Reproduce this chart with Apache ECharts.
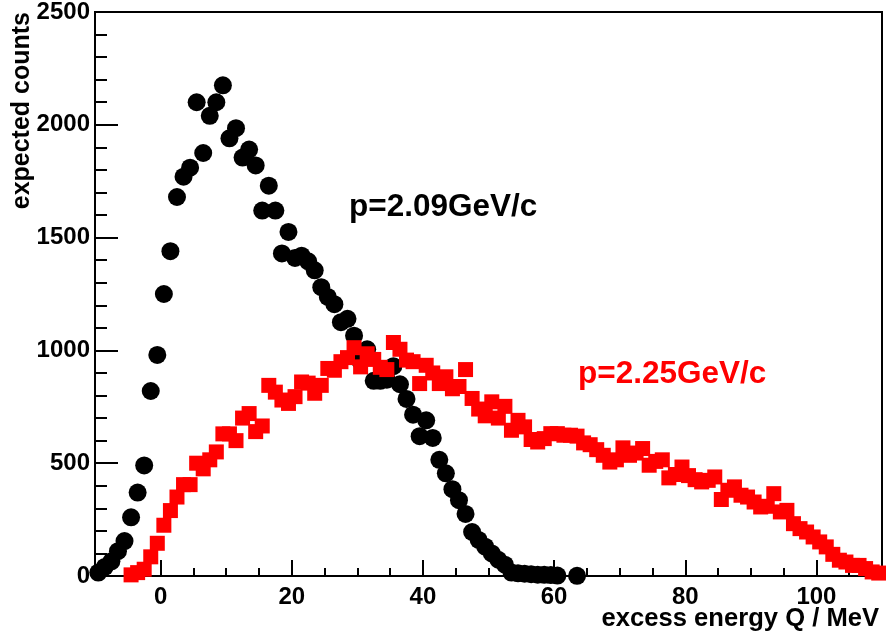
<!DOCTYPE html>
<html lang="en">
<head>
    <meta charset="UTF-8">
    <title>expected counts vs excess energy</title>
    <script src="https://cdn.jsdelivr.net/npm/echarts@6/dist/echarts.min.js"></script>
    <style>
        *{ padding: 0; margin: 0; }
        #chart{ width: 886px; height: 636px; background: #fff; }
    </style>
</head>
<body>
<div id="chart"></div>
<script>
    // bin centres start here, 1 MeV bins
    var blackStart = -9.5;
    var redStart = -4.5;

    // p=2.09GeV/c (black circles)
    var blackCounts = [
        15, 40, 65, 110, 155, 260, 370, 490, 820, 980,
        1250, 1440, 1680, 1770, 1810, 2100, 1875, 2040, 2100, 2175,
        1940, 1985, 1855, 1890, 1820, 1620, 1730, 1620, 1430, 1525,
        1410, 1420, 1395, 1355, 1280, 1237, 1205, 1125, 1140, 1065,
        950, 1005, 865, 865, 870, 930, 850, 785, 715, 620,
        690, 612, 515, 455, 385, 336, 275, 195, 160, 130,
        100, 72, 50, 15, 12, 10, 8, 6, 5, 4,
        2, null, null, 1
    ];

    // p=2.25GeV/c (red squares)
    var redCounts = [
        5, 15, 30, 85, 145, 225, 290, 350, 405, 405,
        500, 475, 515, 550, 630, 630, 600, 700, 720, 640,
        665, 845, 815, 780, 765, 795, 860, 855, 810, 845,
        920, 912, 950, 968, 1012, 927, 985, 960, 925, 915,
        1035, 1005, 957, 950, 853, 934, 900, 853, 883, 830,
        840, 915, 787, 740, 710, 772, 700, 752, 646, 690,
        661, 605, 594, 609, 631, 631, 624, 624, 620, 590,
        582, 560, 535, 505, 515, 568, 535, 545, 565, 491,
        508, 515, 435, 450, 483, 445, 427, 417, 424, 439,
        339, 380, 395, 358, 350, 328, 306, 309, 365, 284,
        291, 232, 210, 195, 173, 151, 129, 96, 70, 62,
        47, 47, 33, 18, 13
    ];

    var xMajorTicks = [0, 20, 40, 60, 80, 100];
    var xMinorTicks = [-5, 5, 10, 15, 25, 30, 35, 45, 50, 55, 65, 70, 75, 85, 90, 95, 105];

    function toPoints(start, counts) {
        var out = [];
        for (var i = 0; i < counts.length; i++) {
            if (counts[i] !== null) out.push([start + i, counts[i]]);
        }
        return out;
    }

    var FONT = '"Liberation Sans", Arial, Helvetica, sans-serif';
    var labelStyle = { color: '#000', fontFamily: FONT, fontWeight: 'bold', fontSize: 24 };

    var my_chart = echarts.init(document.getElementById('chart'));
    my_chart.setOption({
        animation: false,
        backgroundColor: '#ffffff',
        grid: {
            left: 95, right: 4, top: 12, bottom: 60,
            show: true, borderColor: '#000', borderWidth: 2
        },
        xAxis: [{
            type: 'value',
            position: 'bottom',
            min: -10, max: 110, interval: 5,
            axisLine: { onZero: false, lineStyle: { color: '#000', width: 2 } },
            axisTick: { inside: true, length: 16, customValues: xMajorTicks, lineStyle: { color: '#000', width: 2 } },
            axisLabel: Object.assign({ margin: 9, customValues: xMajorTicks }, labelStyle),
            splitLine: { show: false }
        }, {
            // minor ticks only
            type: 'value',
            position: 'bottom',
            min: -10, max: 110, interval: 5,
            axisLine: { show: false, onZero: false },
            axisTick: { inside: true, length: 8, customValues: xMinorTicks, lineStyle: { color: '#000', width: 2 } },
            axisLabel: { show: false },
            splitLine: { show: false }
        }],
        yAxis: {
            type: 'value',
            position: 'left',
            min: 0, max: 2500, interval: 500,
            axisLine: { show: true, onZero: false, lineStyle: { color: '#000', width: 2 } },
            axisTick: { inside: true, length: 23, lineStyle: { color: '#000', width: 2 } },
            minorTick: { show: true, splitNumber: 5, length: 12, lineStyle: { color: '#000', width: 2 } },
            axisLabel: Object.assign({ margin: 5, formatter: function (v) { return String(v); } }, labelStyle),
            splitLine: { show: false }
        },
        graphic: [{
            type: 'text', x: 22, y: 12, rotation: Math.PI / 2,
            style: { text: 'expected counts', font: 'bold 25px ' + FONT, fill: '#000',
                textAlign: 'right', textVerticalAlign: 'middle' }
        }, {
            type: 'text', x: 879, y: 619,
            style: { text: 'excess energy Q / MeV', font: 'bold 25.6px ' + FONT, fill: '#000',
                textAlign: 'right', textVerticalAlign: 'middle' }
        }, {
            type: 'text', x: 349, y: 207,
            style: { text: 'p=2.09GeV/c', font: 'bold 31.5px ' + FONT, fill: '#000',
                textAlign: 'left', textVerticalAlign: 'middle' }
        }, {
            type: 'text', x: 578, y: 374,
            style: { text: 'p=2.25GeV/c', font: 'bold 31.5px ' + FONT, fill: '#ff0000',
                textAlign: 'left', textVerticalAlign: 'middle' }
        }],
        series: [{
            name: 'p=2.09GeV/c',
            type: 'scatter',
            clip: false,
            symbol: 'circle',
            symbolSize: 18,
            itemStyle: { color: '#000', opacity: 1 },
            data: toPoints(blackStart, blackCounts)
        }, {
            name: 'p=2.25GeV/c',
            type: 'scatter',
            clip: false,
            symbol: 'rect',
            symbolSize: 15,
            itemStyle: { color: '#ff0000', opacity: 1 },
            data: toPoints(redStart, redCounts)
        }]
    });
</script>
</body>
</html>
